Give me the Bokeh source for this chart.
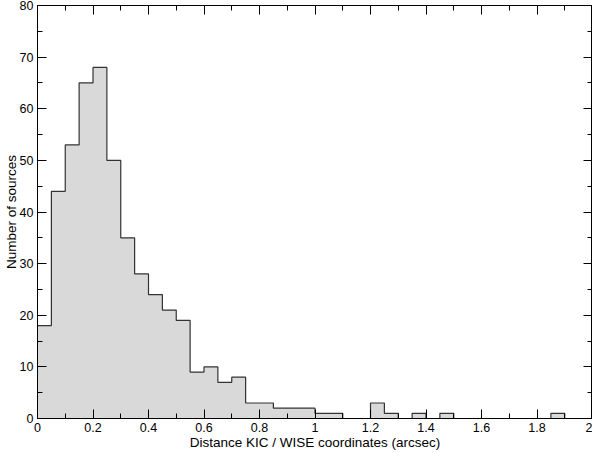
from bokeh.plotting import figure
from bokeh.models import LinearAxis, SingleIntervalTicker, CustomJSTickFormatter, Range1d
from bokeh.embed import file_html
from bokeh.resources import INLINE

# bin edges (arcsec) and counts
bin_left = [0.00, 0.05, 0.10, 0.15, 0.20, 0.25, 0.30, 0.35, 0.40, 0.45,
            0.50, 0.55, 0.60, 0.65, 0.70, 0.75, 0.80, 0.85, 0.90, 0.95,
            1.00, 1.05, 1.10, 1.15, 1.20, 1.25, 1.30, 1.35, 1.40, 1.45,
            1.50, 1.55, 1.60, 1.65, 1.70, 1.75, 1.80, 1.85]
counts = [18, 44, 53, 65, 68, 50, 35, 28, 24, 21,
          19, 9, 10, 7, 8, 3, 3, 2, 2, 2,
          1, 1, 0, 0, 3, 1, 0, 1, 0, 1,
          0, 0, 0, 0, 0, 0, 0, 1]
bin_width = 0.05

x_label = "Distance KIC / WISE coordinates (arcsec)"
y_label = "Number of sources"

FONT = "Liberation Sans"

p = figure(width=592, height=452, output_backend="svg", toolbar_location=None,
           x_range=Range1d(0, 2), y_range=Range1d(0, 80),
           min_border_left=4, min_border_right=0, min_border_top=5, min_border_bottom=4,
           x_axis_label=x_label, y_axis_label=y_label)
p.grid.visible = False
p.background_fill_color = "white"
p.border_fill_color = "white"
p.outline_line_color = "black"

step_x = bin_left + [bin_left[-1] + bin_width]
step_y = counts + [0]
p.varea_step(x=step_x, y1=[0] * len(step_y), y2=step_y, step_mode="after",
             fill_color="#d9d9d9")
p.step(x=step_x, y=step_y, mode="after", line_color="#333333", line_width=1.2)

xt = SingleIntervalTicker(interval=0.2, num_minor_ticks=2)
yt = SingleIntervalTicker(interval=10, num_minor_ticks=2)

def style(ax, ticker):
    ax.ticker = ticker
    ax.axis_line_color = "black"
    ax.major_tick_line_color = "black"
    ax.minor_tick_line_color = "black"
    ax.major_tick_in = 9
    ax.major_tick_out = 0
    ax.minor_tick_in = 5
    ax.minor_tick_out = 0
    ax.major_label_text_font = FONT
    ax.major_label_text_font_size = "12.5px"
    ax.major_label_text_color = "black"
    ax.axis_label_text_font = FONT
    ax.axis_label_text_font_size = "13.5px"
    ax.axis_label_text_font_style = "normal"
    ax.axis_label_text_color = "black"
    ax.major_label_standoff = 4

style(p.xaxis[0], xt)
style(p.yaxis[0], yt)
p.xaxis[0].axis_label_standoff = 0
p.yaxis[0].axis_label_standoff = -2
p.yaxis[0].major_label_orientation = "horizontal"

blank = "return ''"
top_ax = LinearAxis()
style(top_ax, SingleIntervalTicker(interval=0.2, num_minor_ticks=2))
top_ax.formatter = CustomJSTickFormatter(code=blank)
top_ax.major_label_standoff = 0
top_ax.major_label_text_font_size = "0px"
right_ax = LinearAxis()
style(right_ax, SingleIntervalTicker(interval=10, num_minor_ticks=2))
right_ax.formatter = CustomJSTickFormatter(code=blank)
right_ax.major_label_standoff = 0
right_ax.major_label_text_font_size = "0px"
p.add_layout(top_ax, "above")
p.add_layout(right_ax, "right")

open("out.html", "w").write(file_html(p, INLINE))
